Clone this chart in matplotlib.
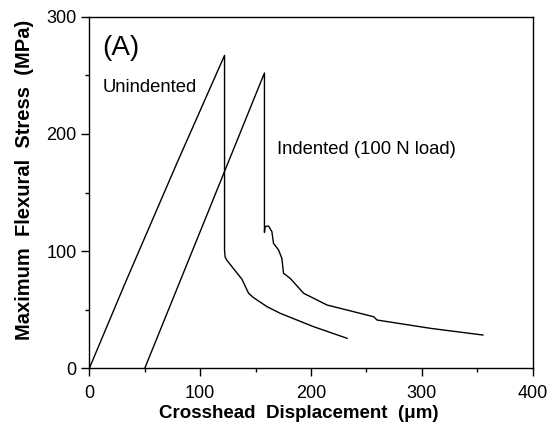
import matplotlib
matplotlib.use("Agg")
import matplotlib.pyplot as plt
from matplotlib.ticker import MultipleLocator

plt.rcParams['font.family'] = ['Liberation Sans', 'DejaVu Sans']

# Unindented specimen: displacement (um) vs stress (MPa)
unind_x = [0, 32, 79, 122, 122, 122.5, 124, 128.7, 137.7, 143.7, 148.2,
           160.3, 172.3, 202.4, 232.6]
unind_y = [0, 72, 175, 267, 101, 95, 92.4, 86.7, 76, 64, 60.3,
           52.6, 46.9, 35.5, 25.6]

# Indented specimen (100 N load)
ind_x = [50, 158, 158, 158.5, 161.7, 164.7, 166.2, 170.7, 173.7, 175.2,
         181.2, 193.4, 214.5, 256.6, 259.6, 307.9, 355.1]
ind_y = [0, 252, 116, 121, 121.4, 116.6, 106.6, 101, 93.9, 81.1,
         76.8, 64, 54, 44, 41.2, 34.1, 28.4]

xticks = [0, 100, 200, 300, 400]
yticks = [0, 100, 200, 300]

fig = plt.figure(figsize=(5.5, 4.26), dpi=100)
ax = fig.add_axes([0.1624, 0.1354, 0.8061, 0.8254])

ax.plot(unind_x, unind_y, color="black", lw=1.0)
ax.plot(ind_x, ind_y, color="black", lw=1.0)

ax.set_xlim(0, 400)
ax.set_ylim(0, 300)
ax.set_xticks(xticks)
ax.set_yticks(yticks)
ax.xaxis.set_minor_locator(MultipleLocator(50))
ax.yaxis.set_minor_locator(MultipleLocator(50))
ax.tick_params(which="major", direction="out", length=6, width=1,
               labelsize=13)
ax.tick_params(axis="x", which="major", pad=6)
ax.tick_params(axis="y", which="major", pad=3)
ax.tick_params(which="minor", direction="out", length=3, width=1)
for s in ax.spines.values():
   s.set_linewidth(1.0)

ax.text(11.5, 284, "(A)", fontsize=20, va="top", ha="left")
ax.text(12, 240, "Unindented", fontsize=13.3, va="center", ha="left")
ax.text(169, 187, "Indented (100 N load)", fontsize=13.3, va="center", ha="left")

ax.set_xlabel("Crosshead  Displacement  (\u03bcm)", fontsize=13.5,
              fontweight="bold")
ax.set_ylabel("Maximum  Flexural  Stress  (MPa)", fontsize=14.5,
              fontweight="bold")
ax.xaxis.set_label_coords(0.473, -0.104)
ax.yaxis.set_label_coords(-0.125, 0.5356)

fig.savefig("out.png", dpi=100)
